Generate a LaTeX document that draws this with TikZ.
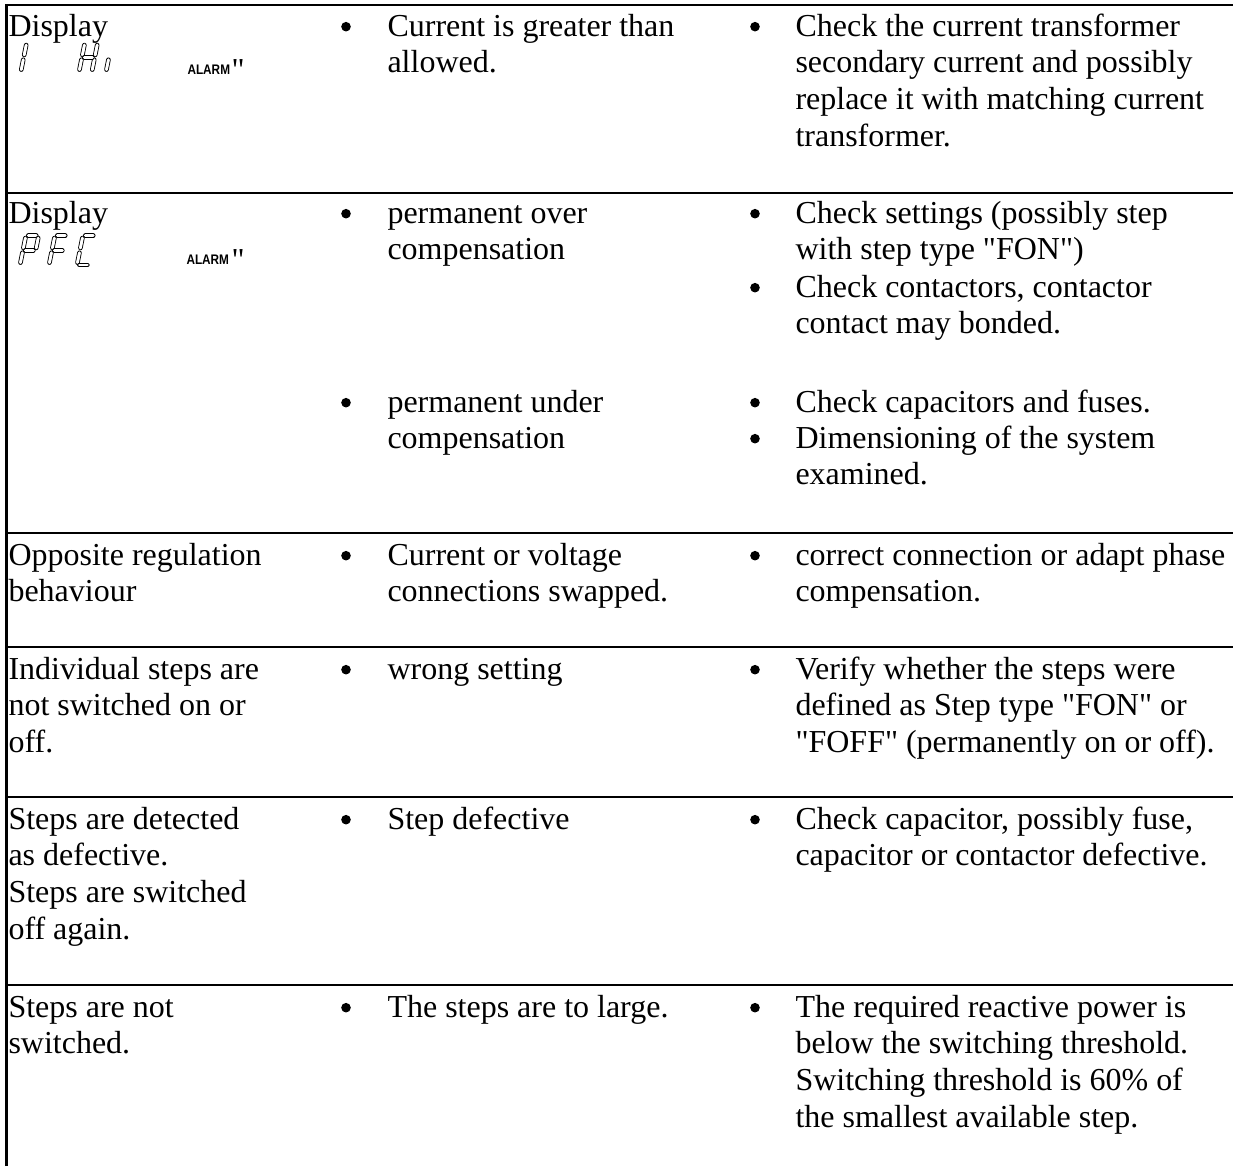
\documentclass[tikz,border=0pt]{standalone}
\usepackage{fontspec}
\setmainfont{Liberation Serif}
\newfontfamily\plainserif{Liberation Serif}
\newfontfamily\lcdsans{Liberation Sans}
\usetikzlibrary{calc}

% a few lines of a cell, baseline at the first line
\newcommand{\lines}[1]{\begin{tabular}[t]{@{}l@{}}#1\end{tabular}}
% one glyph of the segment display
\newcommand{\lcd}[3]{%
  \begin{scope}[shift={(#1,#2)},x=4.8pt,y=5.5pt,xslant=0.2]
    \coordinate (tl) at (0,2); \coordinate (tr) at (1,2);
    \coordinate (ml) at (0,1); \coordinate (mr) at (1,1);
    \coordinate (bl) at (0,0); \coordinate (br) at (1,0);
    \foreach \p/\q in {#3} \draw[seg] (\p) -- (\q);
  \end{scope}}

\begin{document}
\begin{tikzpicture}[x=0.3752pt,y=-0.3752pt,
  txt/.style={anchor=base west,inner sep=0pt,font=\plainserif\fontsize{12}{13.8}\selectfont},
  bul/.style={circle,fill,inner sep=0pt,minimum size=3.6pt,yshift=3.5pt},
  alarm/.style={anchor=base west,inner sep=0pt,font=\lcdsans\bfseries\fontsize{5.2}{6}\selectfont},
  rule/.style={line width=1pt},
  seg/.style={double,double distance=1.1pt,line width=0.3pt,line cap=round,
    shorten <=0.9pt,shorten >=0.9pt}]
\useasboundingbox (0,0) rectangle (1233,1166);

% table rules
\draw[rule] (6.5,1166) -- (6.5,5) -- (1233,5);
\foreach \y in {193,533,647,797,985}
  \draw[rule] (6.5,\y) -- (1233,\y);

% row 1
\node[txt] (sym1) at (8,36) {Display};
\lcd{8}{72}{tr/mr,mr/br}
\lcd{79}{72}{tl/ml,ml/bl,tr/mr,mr/br,ml/mr}
\lcd{106}{72}{ml/bl}
\node[alarm] (al1) at (187,74) {\scalebox{0.85}[1]{ALARM}};
\node[txt] (qt1) at (231,80) {"};
\node[bul] (bc1) at (346,36) {};
\node[txt] (cause1) at (387,36) {\lines{Current is greater than\\allowed.}};
\node[bul] (br1) at (755,36) {};
\node[txt] (fix1) at (795,36) {\lines{Check the current transformer\\secondary current and possibly\\replace it with matching current\\transformer.}};

% row 2
\node[txt] (sym2) at (8,223) {Display};
\lcd{20}{265}{tl/tr,tr/mr,tl/ml,ml/mr,ml/bl}
\lcd{49}{265}{tl/tr,tl/ml,ml/mr,ml/bl}
\lcd{77}{265}{tl/tr,tl/ml,ml/bl,bl/br}
\node[alarm] (al2) at (186,264) {\scalebox{0.85}[1]{ALARM}};
\node[txt] (qt2) at (231,270) {"};
\node[bul] (bc2a) at (346,223) {};
\node[txt] (cause2a) at (387,223) {\lines{permanent over\\compensation}};
\node[bul] (bc2b) at (346,412) {};
\node[txt] (cause2b) at (387,412) {\lines{permanent under\\compensation}};
\node[bul] (br2a) at (755,223) {};
\node[txt] (fix2a) at (795,223) {\lines{Check settings (possibly step\\with step type "FON")}};
\node[bul] (br2b) at (755,297) {};
\node[txt] (fix2b) at (795,297) {\lines{Check contactors, contactor\\contact may bonded.}};
\node[bul] (br2c) at (755,412) {};
\node[txt] (fix2c) at (795,412) {Check capacitors and fuses.};
\node[bul] (br2d) at (755,448) {};
\node[txt] (fix2d) at (795,448) {\lines{Dimensioning of the system\\examined.}};

% row 3
\node[txt] (sym3) at (8,565) {\lines{Opposite regulation\\behaviour}};
\node[bul] (bc3) at (346,565) {};
\node[txt] (cause3) at (387,565) {\lines{Current or voltage\\connections swapped.}};
\node[bul] (br3) at (755,565) {};
\node[txt] (fix3) at (795,565) {\lines{correct connection or adapt phase\\compensation.}};

% row 4
\node[txt] (sym4) at (8,679) {\lines{Individual steps are\\not switched on or\\off.}};
\node[bul] (bc4) at (346,679) {};
\node[txt] (cause4) at (387,679) {wrong setting};
\node[bul] (br4) at (755,679) {};
\node[txt] (fix4) at (795,679) {\lines{Verify whether the steps were\\defined as Step type "FON" or\\"FOFF" (permanently on or off).}};

% row 5
\node[txt] (sym5) at (8,829) {\lines{Steps are detected\\as defective.\\Steps are switched\\off again.}};
\node[bul] (bc5) at (346,829) {};
\node[txt] (cause5) at (387,829) {Step defective};
\node[bul] (br5) at (755,829) {};
\node[txt] (fix5) at (795,829) {\lines{Check capacitor, possibly fuse,\\capacitor or contactor defective.}};

% row 6
\node[txt] (sym6) at (8,1017) {\lines{Steps are not\\switched.}};
\node[bul] (bc6) at (346,1017) {};
\node[txt] (cause6) at (387,1017) {The steps are to large.};
\node[bul] (br6) at (755,1017) {};
\node[txt] (fix6) at (795,1017) {\lines{The required reactive power is\\below the switching threshold.\\Switching threshold is 60\% of\\the smallest available step.}};
\end{tikzpicture}
\end{document}
